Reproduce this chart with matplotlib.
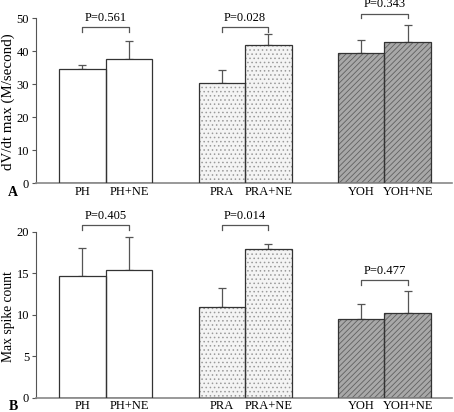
#!/usr/bin/env python3

import numpy as np
from matplotlib import pyplot as plt

plt.rcParams['font.family'] = ['Liberation Serif', 'DejaVu Serif']
plt.rcParams['hatch.linewidth'] = 0.6

labels = ['PH', 'PH+NE', 'PRA', 'PRA+NE', 'YOH', 'YOH+NE']
positions = [1, 2, 4, 5, 7, 8]

dvdt_mean = [34.4, 37.6, 30.4, 41.8, 39.3, 42.7]
dvdt_err = [1.3, 5.5, 3.9, 3.3, 3.9, 5.1]
dvdt_p = ['P=0.561', 'P=0.028', 'P=0.343']
dvdt_bracket = [47.2, 47.2, 51.3]

spike_mean = [14.7, 15.4, 10.9, 17.9, 9.5, 10.2]
spike_err = [3.4, 4.0, 2.3, 0.7, 1.8, 2.65]
spike_p = ['P=0.405', 'P=0.014', 'P=0.477']
spike_bracket = [20.8, 20.8, 14.2]

# face, hatch colour, hatch
styles = [('white', 'white', ''), ('white', 'white', ''),
          ('#f4f4f4', '#9a9a9a', '....'), ('#f4f4f4', '#9a9a9a', '....'),
          ('#a8a8a8', '#606060', '//////'), ('#a8a8a8', '#606060', '//////')]

fig = plt.figure(figsize=(4.54, 4.12), dpi=100)
ax1 = fig.add_axes([0.0793, 0.5558, 0.916, 0.4005])
ax2 = fig.add_axes([0.0793, 0.0347, 0.916, 0.4022])

def draw_panel(ax, means, errs, pvals, brackets, ymax, step, ylabel, ylsize, letter):
	for x, m, e, (fc, hc, h) in zip(positions, means, errs, styles):
		# hatch layer then outline
		ax.bar(x, m, width=1.0, color=fc, edgecolor=hc, hatch=h, linewidth=0, zorder=2)
		ax.bar(x, m, width=1.0, color='none', edgecolor='#333333', linewidth=0.9, zorder=3)
		ax.errorbar(x, m, yerr=[[0], [e]], fmt='none', ecolor='#555555',
			elinewidth=0.9, capsize=3, capthick=0.9, zorder=1)
	tick_h = ymax * 0.028
	for i, (p, b) in enumerate(zip(pvals, brackets)):
		x0, x1 = positions[2 * i], positions[2 * i + 1]
		ax.plot([x0, x0, x1, x1], [b - tick_h, b, b, b - tick_h], color='#555555',
			lw=0.9, clip_on=False)
		ax.text((x0 + x1) / 2, b + ymax * 0.056, p, ha='center', va='center',
			fontsize=9, clip_on=False)
	ax.set_xlim(0, 8.95)
	ax.set_ylim(0, ymax)
	ax.set_yticks(np.arange(0, ymax + 0.1, step))
	ax.set_xticks(positions)
	ax.set_xticklabels(labels)
	ax.tick_params(axis='x', length=0, labelsize=9, pad=2)
	ax.tick_params(axis='y', length=3, labelsize=9, pad=2, color='#555555')
	ax.spines['top'].set_visible(False)
	ax.spines['right'].set_visible(False)
	ax.spines['left'].set_color('#555555')
	ax.spines['bottom'].set_color('#888888')
	ax.spines['bottom'].set_linewidth(1.2)
	ax.set_ylabel(ylabel, fontsize=ylsize)
	ax.yaxis.set_label_coords(-0.05, 0.49)
	ax.text(-0.055, -0.055, letter, transform=ax.transAxes, fontsize=10,
		fontweight='bold', ha='center', va='center')

draw_panel(ax1, dvdt_mean, dvdt_err, dvdt_p, dvdt_bracket, 50, 10,
	'dV/dt max (M/second)', 10.8, 'A')
draw_panel(ax2, spike_mean, spike_err, spike_p, spike_bracket, 20, 5,
	'Max spike count', 9.8, 'B')

fig.savefig('out.png', dpi=100)
